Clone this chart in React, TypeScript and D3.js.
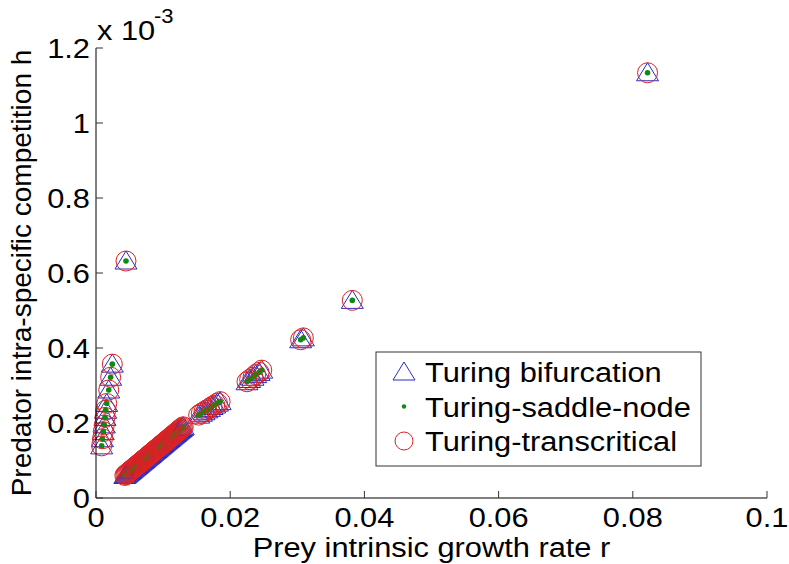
import * as d3 from 'd3';

// prey growth rate r and predator competition h (h in units of 1e-3)
const columnR = [0.00243, 0.00218, 0.00190, 0.00160, 0.00145, 0.00134, 0.00124, 0.00108, 0.00096, 0.00084];
const columnH = [0.357, 0.322, 0.288, 0.252, 0.234, 0.215, 0.195, 0.177, 0.158, 0.139];

const bandR = [
  0.00430, 0.00445, 0.00460, 0.00475, 0.00490, 0.00505, 0.00520, 0.00535, 0.00550, 0.00565,
  0.00580, 0.00595, 0.00610, 0.00625, 0.00640, 0.00655, 0.00670, 0.00685, 0.00700, 0.00715,
  0.00730, 0.00745, 0.00760, 0.00775, 0.00790, 0.00805, 0.00820, 0.00835, 0.00850, 0.00865,
  0.00880, 0.00895, 0.00910, 0.00925, 0.00940, 0.00955, 0.00970, 0.00985, 0.01000, 0.01015,
  0.01030, 0.01045, 0.01060, 0.01075, 0.01090, 0.01105, 0.01120, 0.01135, 0.01150, 0.01165,
  0.01180, 0.01195, 0.01210, 0.01225, 0.01240, 0.01255, 0.01270, 0.01285, 0.01300,
];
const bandH = [
  0.0600, 0.0622, 0.0645, 0.0667, 0.0690, 0.0712, 0.0734, 0.0757, 0.0779, 0.0802,
  0.0824, 0.0846, 0.0869, 0.0891, 0.0914, 0.0936, 0.0958, 0.0981, 0.1003, 0.1026,
  0.1048, 0.1070, 0.1093, 0.1115, 0.1138, 0.1160, 0.1182, 0.1205, 0.1227, 0.1250,
  0.1272, 0.1294, 0.1317, 0.1339, 0.1362, 0.1384, 0.1406, 0.1429, 0.1451, 0.1474,
  0.1496, 0.1518, 0.1541, 0.1563, 0.1586, 0.1608, 0.1630, 0.1653, 0.1675, 0.1698,
  0.1720, 0.1742, 0.1765, 0.1787, 0.1810, 0.1832, 0.1854, 0.1877, 0.1899,
];

const upperR = [
  0.0153, 0.0157, 0.0161, 0.0165, 0.0169, 0.0173, 0.0177, 0.0181, 0.0185,
  0.0225, 0.0229, 0.0234, 0.0238, 0.0243, 0.0247,
  0.0305, 0.0309, 0.0382,
];
const upperH = [
  0.221, 0.226, 0.230, 0.235, 0.239, 0.244, 0.248, 0.253, 0.257,
  0.310, 0.316, 0.322, 0.329, 0.335, 0.341,
  0.422, 0.427, 0.527,
];

const isolatedR = [0.00447, 0.0822];
const isolatedH = [0.632, 1.134];

const xTicks = [0, 0.02, 0.04, 0.06, 0.08, 0.1];
const yTicks = [0, 0.2, 0.4, 0.6, 0.8, 1, 1.2];
const legendLabels = ['Turing bifurcation', 'Turing-saddle-node', 'Turing-transcritical'];

const allR = [...columnR, ...bandR, ...upperR, ...isolatedR];
const allH = [...columnH, ...bandH, ...upperH, ...isolatedH];
const points = allR.map((r, i) => ({ r, h: allH[i] }));

const W = 789;
const H = 564;
const FONT = 'Liberation Sans, Arial, sans-serif';
const TRI = '#2b2bc0';
const CIRC = '#dd2222';
const DOT = '#118811';
const trianglePath = 'M0,-10L11,8L-11,8Z';

// the original figure is a bit stretched sideways, so text gets a horizontal scale
function SText({ x, y, anchor = 'start', size = 28, children }: any) {
  return (
    <text
      transform={`translate(${x},${y}) scale(1.1,1)`}
      textAnchor={anchor}
      fontSize={size}
      fontFamily={FONT}
      fill="#000"
    >
      {children}
    </text>
  );
}

export default function App() {
  const x = d3.scaleLinear().domain([0, 0.1]).range([96, 767]);
  const y = d3.scaleLinear().domain([0, 1.2]).range([498, 48]);
  const [x0, x1] = x.range();
  const [y0, y1] = y.range();

  const legendX = 376;
  const legendY = 352;
  const rowGap = 34.5;

  return (
    <svg width={W} height={H} style={{ position: 'absolute', left: 0, top: 0, background: '#fff' }}>
      <rect width={W} height={H} fill="#fff" />

      {/* markers: triangles, dots, then open circles */}
      <g fill="none" stroke={TRI} strokeWidth={1}>
        {points.map((p, i) => (
          <path key={i} d={trianglePath} transform={`translate(${x(p.r)},${y(p.h)})`} />
        ))}
      </g>
      <g fill={DOT}>
        {points.map((p, i) => (
          <circle key={i} cx={x(p.r)} cy={y(p.h)} r={2.8} />
        ))}
      </g>
      <g fill="none" stroke={CIRC} strokeWidth={1}>
        {points.map((p, i) => (
          <circle key={i} cx={x(p.r)} cy={y(p.h)} r={10} />
        ))}
      </g>

      {/* axes */}
      <line x1={x0} x2={x1} y1={y0} y2={y0} stroke="#000" />
      <line x1={x0} x2={x0} y1={y0} y2={y1} stroke="#000" />
      {xTicks.map(t => (
        <g key={t}>
          <line x1={x(t)} x2={x(t)} y1={y0} y2={y0 - 7} stroke="#333" />
          <SText x={x(t)} y={527} anchor="middle">{String(t)}</SText>
        </g>
      ))}
      {yTicks.map(t => (
        <g key={t}>
          <line x1={x0} x2={x0 + 7} y1={y(t)} y2={y(t)} stroke="#333" />
          <SText x={90} y={y(t) + 10} anchor="end">{String(t)}</SText>
        </g>
      ))}

      <SText x={97} y={40}>x 10</SText>
      <SText x={154} y={23} size={20}>-3</SText>

      <SText x={(x0 + x1) / 2} y={557} anchor="middle">Prey intrinsic growth rate r</SText>
      <text
        transform={`translate(31,${(y0 + y1) / 2}) rotate(-90)`}
        textAnchor="middle"
        fontSize={28}
        fontFamily={FONT}
      >
        Predator intra-specific competition h
      </text>

      {/* legend */}
      <rect x={legendX} y={legendY} width={325} height={114} fill="#fff" stroke="#333" />
      <path d={trianglePath} transform={`translate(404,${legendY + 20})`} fill="none" stroke={TRI} />
      <circle cx={404} cy={legendY + 20 + rowGap} r={2.2} fill={DOT} />
      <circle cx={404} cy={legendY + 20 + rowGap * 2} r={9} fill="none" stroke={CIRC} />
      {legendLabels.map((l, i) => (
        <SText key={l} x={425} y={legendY + 30 + rowGap * i}>{l}</SText>
      ))}
    </svg>
  );
}
